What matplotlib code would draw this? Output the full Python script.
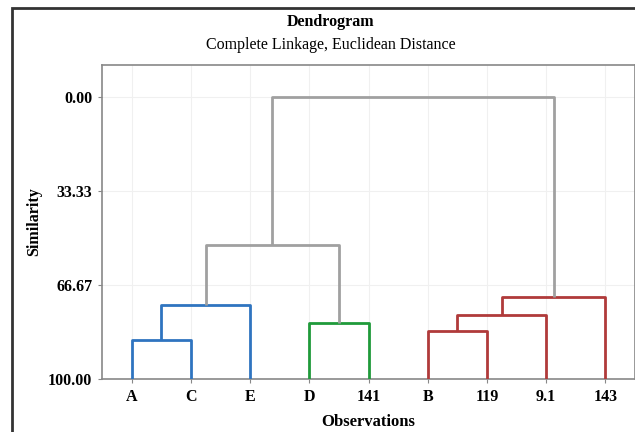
import matplotlib
matplotlib.use('Agg')
from matplotlib import pyplot as plt
from matplotlib.patches import Rectangle

labels = ['A', 'C', 'E', 'D', '141', 'B', '119', '9.1', '143']
# merges like scipy linkage: (left, right, similarity); new clusters numbered from 9
merges = [
    (0, 1, 86.2),    # 9:  A + C
    (9, 2, 73.8),    # 10: AC + E
    (3, 4, 80.1),    # 11: D + 141
    (5, 6, 83.0),    # 12: B + 119
    (12, 7, 77.3),   # 13: B119 + 9.1
    (13, 8, 70.9),   # 14: ... + 143
    (10, 11, 52.5),  # 15: blue + green
    (15, 14, 0.0),   # 16: all
]
merge_colors = ['#2f74c0', '#2f74c0', '#1f9a3a', '#b03a3a', '#b03a3a', '#b03a3a', '#a0a0a0', '#a0a0a0']
yticks = [0.0, 33.33, 66.67, 100.0]

plt.rcParams['font.family'] = ['Liberation Serif', 'DejaVu Serif']

fig = plt.figure(figsize=(6.35, 4.32), dpi=100)
fig.patches.append(Rectangle((12/635, -0.1), 1.2, 1 - 8/432 + 0.1, transform=fig.transFigure,
                             fill=False, edgecolor='#333333', linewidth=2))
ax = fig.add_axes([102/635, 1 - 379/432, 1 - 102/635, (379 - 65)/432])

n = len(labels)
xpos = {i: i + 1 for i in range(n)}
ypos = {i: 100.0 for i in range(n)}
for k, (a, b, s) in enumerate(merges):
    c = merge_colors[k]
    xa, xb = xpos[a], xpos[b]
    ax.plot([xa, xa, xb, xb], [ypos[a], s, s, ypos[b]], color=c, linewidth=2,
            solid_joinstyle='round', solid_capstyle='butt', zorder=3)
    xpos[n + k] = (xa + xb) / 2
    ypos[n + k] = s

ax.set_xlim(0.5, n + 0.5)
ax.set_ylim(100, -11.35)
ax.set_xticks(range(1, n + 1))
ax.set_xticklabels(labels, fontweight='bold', fontsize=11.5)
ax.set_yticks(yticks)
ax.set_yticklabels(['%.2f' % v for v in yticks], fontweight='bold', fontsize=11.5)
ax.tick_params(axis='both', length=3, color='#888888', pad=4)
ax.grid(True, color='#f0f0f0', linewidth=0.8)
ax.set_axisbelow(True)
for sp in ax.spines.values():
    sp.set_color('#888888')
    sp.set_linewidth(1.2)

ax.set_xlabel('Observations', fontweight='bold', fontsize=12, labelpad=7)
ax.set_ylabel('Similarity', fontweight='bold', fontsize=11.5, labelpad=4)

fig.text(331/635, 1 - 22/432, 'Dendrogram', ha='center', va='center', fontweight='bold', fontsize=11.5)
fig.text(331/635, 1 - 45/432, 'Complete Linkage, Euclidean Distance', ha='center', va='center', fontsize=11.5)

fig.savefig('out.png', dpi=100)
